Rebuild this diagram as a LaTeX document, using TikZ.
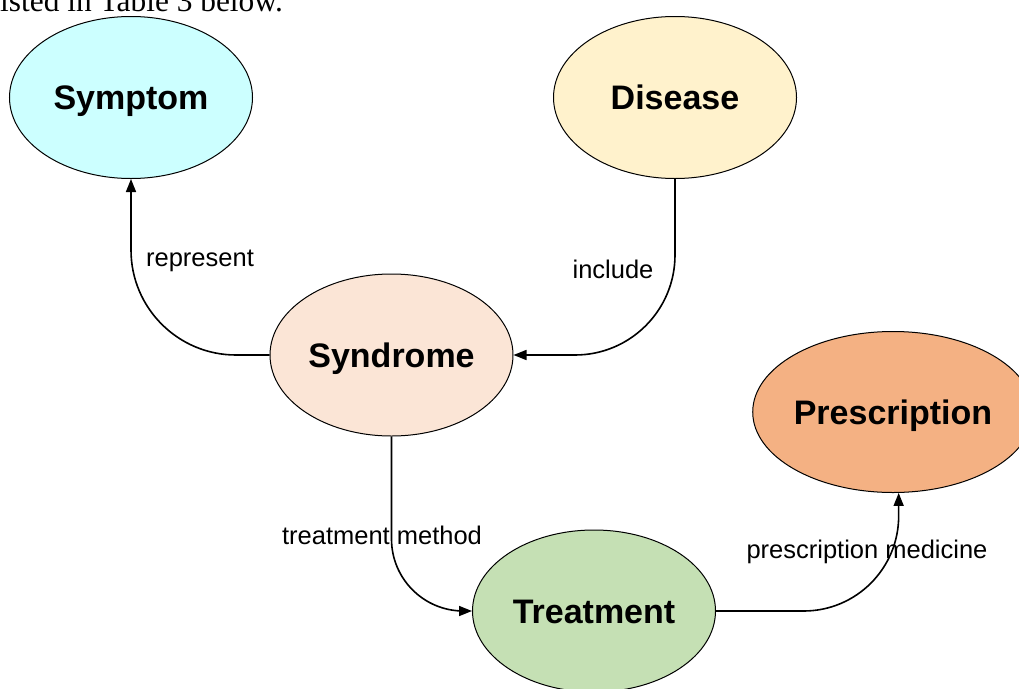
\documentclass[tikz,border=0pt]{standalone}
\usepackage{fontspec}
\setmainfont{Liberation Sans}
\newfontfamily\serifface{Liberation Serif}
\usetikzlibrary{shapes.geometric,arrows.meta}

\definecolor{symfill}{HTML}{CCFFFF}
\definecolor{disfill}{HTML}{FFF2CC}
\definecolor{synfill}{HTML}{FBE5D6}
\definecolor{prefill}{HTML}{F4B183}
\definecolor{trefill}{HTML}{C5E0B4}

\tikzset{
  concept/.style={ellipse, draw=black, line width=1pt, inner sep=0pt,
    minimum width=243pt, minimum height=162pt,
    text height=24.5pt, text depth=0pt,
    font=\fontsize{34}{40}\selectfont\bfseries},
  relation/.style={line width=1.6pt, -{Triangle[length=13pt,width=10pt]}},
  rellabel/.style={font=\fontsize{25.5}{30}\selectfont, inner sep=0pt}
}

\begin{document}
\begin{tikzpicture}[x=1pt,y=-1pt]
  \useasboundingbox (0,0) rectangle (1019,688);
  \clip (0,0) rectangle (1019,688);

  % running text of the page above the figure
  \node[anchor=base west, inner sep=0pt, font=\serifface\fontsize{31.4}{36}\selectfont]
    (caption) at (0,12) {isted in Table 3 below.};

  % concepts
  \node[concept, fill=symfill] (sym) at (131,97.5) {Symptom};
  \node[concept, fill=disfill] (dis) at (675,97.5) {Disease};
  \node[concept, fill=synfill] (syn) at (391.5,355) {Syndrome};
  \node[concept, fill=prefill, minimum width=253pt, minimum height=161pt] (pre) at (893,412) {Prescription};
  \node[concept, fill=trefill] (tre) at (594,611) {Treatment};

  % relations
  \draw[relation, rounded corners=105pt] (syn.west) -| (sym.south);
  \draw[relation, rounded corners=100pt] (dis.south) |- (syn.east);
  \draw[relation, rounded corners=72pt] (syn.south) |- (tre.west);
  \draw[relation, rounded corners=95pt] (tre.east) -| (pre.274);

  % relation labels
  \node[rellabel] (l1) at (200,261) {represent};
  \node[rellabel] (l2) at (613,269) {include};
  \node[rellabel] (l3) at (382,535) {treatment method};
  \node[rellabel] (l4) at (867,552) {prescription medicine};
\end{tikzpicture}
\end{document}
